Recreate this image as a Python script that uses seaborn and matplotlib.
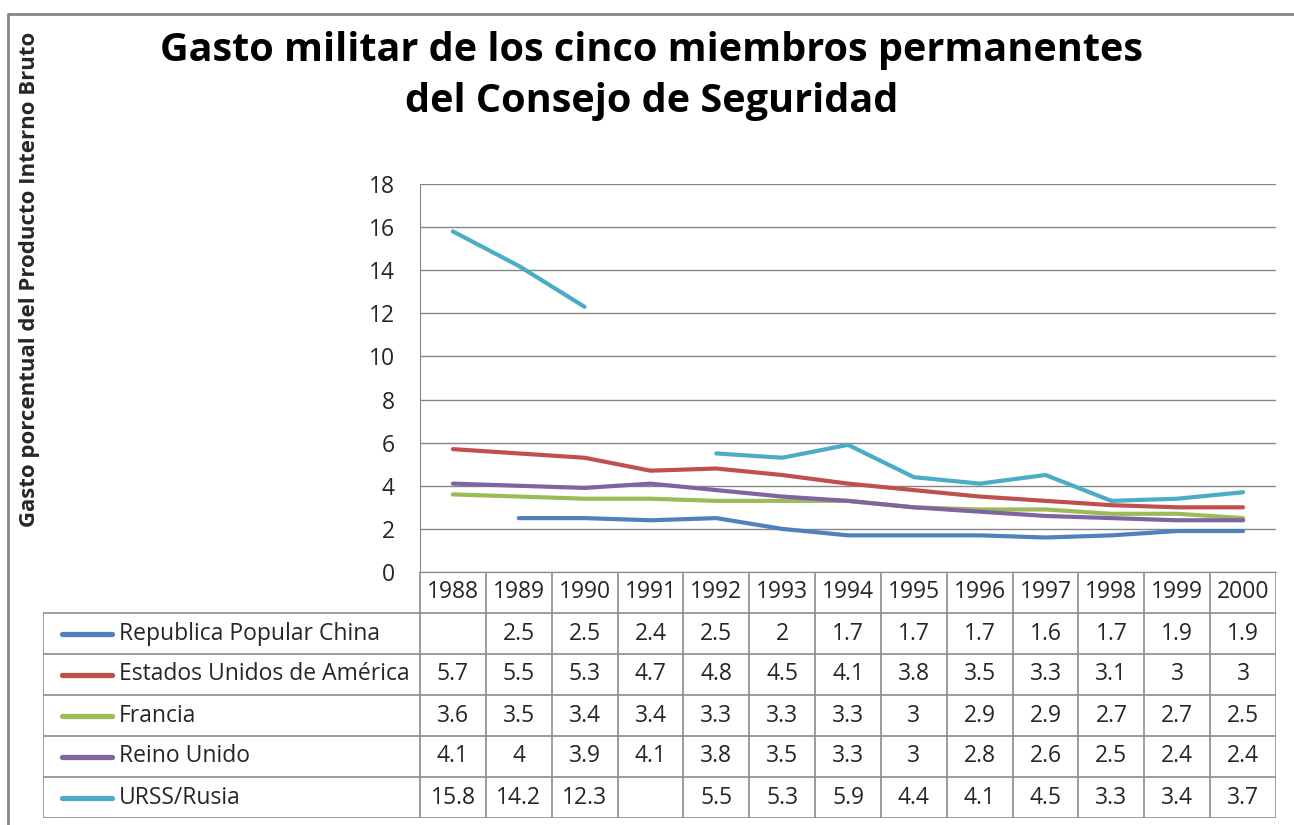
import numpy as np
import pandas as pd
import matplotlib
matplotlib.use("Agg")
import matplotlib.pyplot as plt
import seaborn as sns

years = ["1988", "1989", "1990", "1991", "1992", "1993", "1994",
         "1995", "1996", "1997", "1998", "1999", "2000"]
china = [np.nan, 2.5, 2.5, 2.4, 2.5, 2, 1.7, 1.7, 1.7, 1.6, 1.7, 1.9, 1.9]
eeuu = [5.7, 5.5, 5.3, 4.7, 4.8, 4.5, 4.1, 3.8, 3.5, 3.3, 3.1, 3, 3]
francia = [3.6, 3.5, 3.4, 3.4, 3.3, 3.3, 3.3, 3, 2.9, 2.9, 2.7, 2.7, 2.5]
reino_unido = [4.1, 4, 3.9, 4.1, 3.8, 3.5, 3.3, 3, 2.8, 2.6, 2.5, 2.4, 2.4]
rusia = [15.8, 14.2, 12.3, np.nan, 5.5, 5.3, 5.9, 4.4, 4.1, 4.5, 3.3, 3.4, 3.7]

series_names = ["Republica Popular China", "Estados Unidos de América",
                "Francia", "Reino Unido", "URSS/Rusia"]
series_vals = [china, eeuu, francia, reino_unido, rusia]
colors = ["#4F81BD", "#C0504D", "#9BBB59", "#8064A2", "#4BACC6"]

sns.set_style("white")
plt.rcParams["font.family"] = ["Open Sans", "DejaVu Sans"]

W, H = 1294, 825
fig = plt.figure(figsize=(W / 100, H / 100), dpi=100)

# plot area in pixels
x0, x1, y_top, y_bot = 420, 1276, 184, 572
ax = fig.add_axes([x0 / W, 1 - y_bot / H, (x1 - x0) / W, (y_bot - y_top) / H])

grid_c = "#868686"
rows = []
for name, vals in zip(series_names, series_vals):
    for i, v in enumerate(vals):
        rows.append({"serie": name, "x": i, "valor": v})
df = pd.DataFrame(rows)

# split each series into segments so NaN breaks the line
for name, col in zip(series_names, colors):
    sub = df[df["serie"] == name].copy()
    sub["seg"] = sub["valor"].isna().cumsum()
    sub = sub.dropna()
    for _, part in sub.groupby("seg"):
        sns.lineplot(data=part, x="x", y="valor", color=col, lw=3.0, ax=ax,
                     solid_capstyle="round", legend=False)

ax.set_xlim(-0.5, len(years) - 0.5)
ax.set_ylim(0, 18)
ax.set_yticks(range(0, 19, 2))
ax.set_xticks([])
ax.set_xlabel("")
ax.set_ylabel("")
ax.yaxis.grid(True, color=grid_c, lw=1)
ax.tick_params(axis="y", labelsize=16.5, length=0, pad=18)
for s in ["top", "right"]:
    ax.spines[s].set_visible(False)
ax.spines["left"].set_color(grid_c)
ax.spines["bottom"].set_color(grid_c)

# data table under the axis
cw = (x1 - x0) / len(years)
t_left, t_bot = 43, 818
tx0 = -0.5 - (x0 - t_left) / cw
tab = fig.add_axes([t_left / W, 1 - t_bot / H, (x1 - t_left) / W, (t_bot - y_bot) / H])
tab.set_xlim(tx0, len(years) - 0.5)
tab.set_ylim(6, 0)
tab.axis("off")
lc = "#8c8c8c"
fs = 16.5

# header row (years)
tab.plot([-0.5, len(years) - 0.5], [1, 1], color=lc, lw=1.2)
for i, yr in enumerate(years):
    tab.text(i, 0.5, yr, ha="center", va="center", fontsize=fs)
for i in range(len(years) + 1):
    tab.plot([i - 0.5, i - 0.5], [0, 6], color=lc, lw=1.2)
# body rows
for r in range(2, 7):
    tab.plot([tx0, len(years) - 0.5], [r, r], color=lc, lw=1.2)
tab.plot([tx0, tx0], [1, 6], color=lc, lw=1.2)
tab.plot([tx0, -0.5], [1, 1], color=lc, lw=1.2)

for r, (name, vals, col) in enumerate(zip(series_names, series_vals, colors)):
    yc = r + 1.5
    tab.plot([tx0 + 0.29, tx0 + 1.05], [yc, yc], color=col, lw=3.8,
             solid_capstyle="round")
    tab.text(tx0 + 1.15, yc, name, ha="left", va="center", fontsize=fs)
    for i, v in enumerate(vals):
        if not np.isnan(v):
            tab.text(i, yc, f"{v:g}", ha="center", va="center", fontsize=fs)

fig.suptitle("Gasto militar de los cinco miembros permanentes\ndel Consejo de Seguridad",
             x=652 / W, y=1 - 31 / H, fontsize=28.5, fontweight="bold",
             va="top", linespacing=1.4, color="black")
fig.text(30 / W, 1 - 279 / H, "Gasto porcentual del Producto Interno Bruto",
         rotation=90, ha="center", va="center", fontsize=16, fontweight="bold")

# outer chart border (top and left)
fig.add_artist(plt.Line2D([8 / W, 8 / W], [0, 1 - 14 / H], color=grid_c, lw=2,
                          transform=fig.transFigure))
fig.add_artist(plt.Line2D([8 / W, 1], [1 - 14 / H, 1 - 14 / H], color=grid_c, lw=2,
                          transform=fig.transFigure))

fig.savefig("out.png", dpi=100)
